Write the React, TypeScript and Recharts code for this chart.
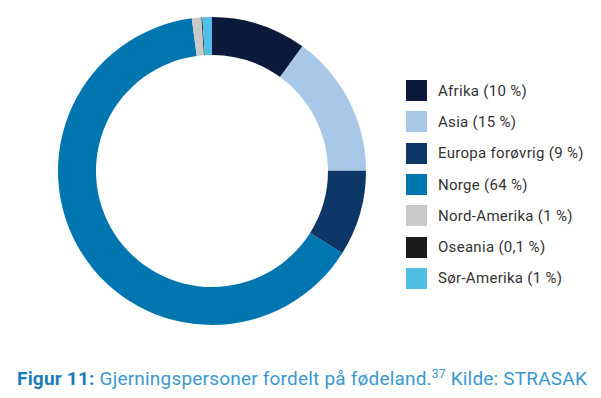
import { PieChart, Pie, Cell, Legend } from 'recharts'

const regions = ['Afrika', 'Asia', 'Europa forøvrig', 'Norge', 'Nord-Amerika', 'Oseania', 'Sør-Amerika']
const shares = [10, 15, 9, 64, 1, 0.1, 1]
const shareLabels = ['10 %', '15 %', '9 %', '64 %', '1 %', '0,1 %', '1 %']
const colors = ['#0b1a3b', '#a9c8e8', '#0d3766', '#0076b1', '#c9c9c9', '#1b1b1b', '#4fbfe5']

const data = regions.map((name, i) => ({ name, value: shares[i], label: shareLabels[i], color: colors[i] }))

function LegendList() {
    return (
        <div style={{ fontFamily: 'Roboto, sans-serif', fontSize: 15, letterSpacing: 0.3, color: '#333' }}>
            {data.map((d) => (
                <div key={d.name} style={{ display: 'flex', alignItems: 'center', height: 31.3 }}>
                    <div style={{ width: 21, height: 21, background: d.color, marginRight: 11 }} />
                    <span>
                        {d.name} ({d.label})
                    </span>
                </div>
            ))}
        </div>
    )
}

export default function App() {
    return (
        <div style={{ position: 'relative', width: 601, height: 398, background: '#fff' }}>
            <style>{`body{margin:0}`}</style>
            <PieChart width={601} height={360} margin={{ top: 0, right: 0, bottom: 0, left: 0 }}>
                <Pie
                    data={data}
                    dataKey="value"
                    nameKey="name"
                    cx={212}
                    cy={171}
                    outerRadius={154}
                    innerRadius={116}
                    startAngle={90}
                    endAngle={-270}
                    stroke="none"
                    isAnimationActive={false}
                >
                    {data.map((d) => (
                        <Cell key={d.name} fill={d.color} />
                    ))}
                </Pie>
                <Legend
                    layout="vertical"
                    content={() => <LegendList />}
                    wrapperStyle={{ left: 406, top: 75, width: 195 }}
                />
            </PieChart>
            <div
                style={{
                    position: 'absolute',
                    left: 17,
                    top: 367,
                    fontFamily: 'Roboto, sans-serif',
                    fontSize: 19,
                    letterSpacing: 0.2,
                    color: '#3a98cf',
                    whiteSpace: 'nowrap',
                }}
            >
                <span style={{ fontWeight: 700, color: '#1a7cb9' }}>Figur 11:</span> Gjerningspersoner fordelt på fødeland.
                <sup style={{ fontSize: 12 }}>37</sup> Kilde: STRASAK
            </div>
        </div>
    )
}
